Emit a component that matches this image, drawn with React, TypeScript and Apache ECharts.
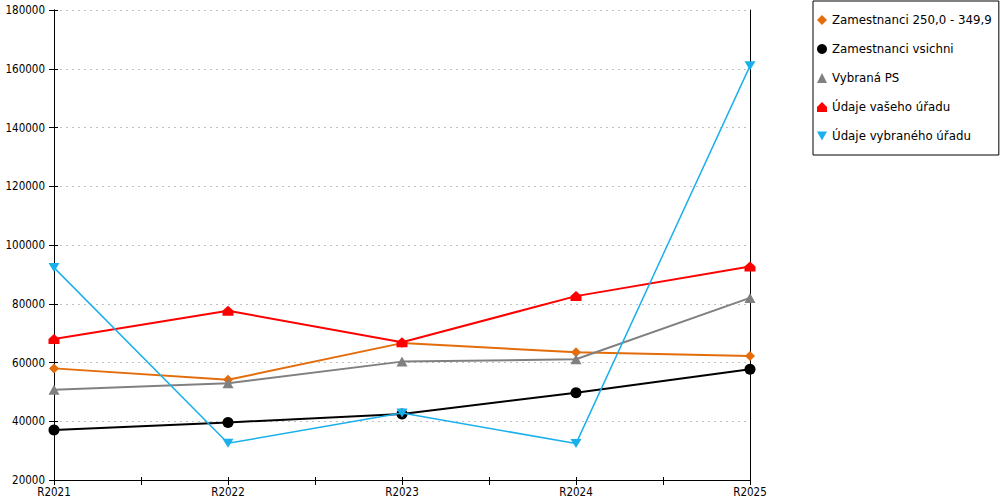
import React, { useEffect, useRef } from "react";
import * as echarts from "echarts";

const categories = ["R2021", "R2022", "R2023", "R2024", "R2025"];
const seriesNames = [
  "Zamestnanci 250,0 - 349,9",
  "Zamestnanci vsichni",
  "Vybraná PS",
  "Údaje vašeho úřadu",
  "Údaje vybraného úřadu",
];
const orangeValues = [58000, 54100, 66600, 63500, 62200];
const blackValues = [37000, 39600, 42500, 49700, 57700];
const grayValues = [50700, 52900, 60300, 61100, 82000];
const redValues = [68000, 77600, 66900, 82600, 92700];
const blueValues = [92300, 32500, 42800, 32400, 161000];
const yTicks = [20000, 40000, 60000, 80000, 100000, 120000, 140000, 160000, 180000];

const colors = ["#E46C0A", "#000000", "#808080", "#FF0000", "#1AB0EC"];
const HOUSE = "path://M0,5 L5,0 L10,5 L10,10 L0,10 Z";
const INV_TRI = "path://M0,0 L10,0 L5,9 Z";
const symbols = ["diamond", "circle", "triangle", HOUSE, INV_TRI];
const symbolSizes: any[] = [[10, 10], 11, [11, 10], [11, 10], [11, 9]];
const lineWidths = [2, 2, 2, 2, 1.5];
const allValues = [orangeValues, blackValues, grayValues, redValues, blueValues];

export default function App() {
  const ref = useRef<HTMLDivElement>(null);
  useEffect(() => {
    if (!ref.current) return;
    const chart = echarts.init(ref.current, undefined, { renderer: "svg" });
    const axisFont = { fontFamily: "DejaVu Sans Condensed", fontSize: 11.5, color: "#000" };
    const xMax = categories.length - 1;
    const xBase = {
      type: "value" as const,
      min: 0,
      max: xMax,
      interval: 0.5,
      position: "bottom" as const,
      splitLine: { show: false },
      axisLine: { show: true, lineStyle: { color: "#000", width: 1 } },
    };
    const yMin = yTicks[0];
    const yMax = yTicks[yTicks.length - 1];
    const yInterval = yTicks[1] - yTicks[0];
    chart.setOption({
      animation: false,
      color: colors,
      grid: { left: 54, right: 250, top: 10, bottom: 20, containLabel: false },
      legend: {
        orient: "vertical",
        left: 813,
        top: 1,
        padding: [13, 7, 13, 4],
        itemGap: 17,
        itemWidth: 10,
        itemHeight: 10,
        itemTextGap: 7,
        borderColor: "#000",
        borderWidth: 1,
        textStyle: { fontFamily: "DejaVu Sans", fontSize: 11.8, color: "#000" },
        data: seriesNames.map((n, i) => ({ name: n, icon: symbols[i] })),
      },
      xAxis: [
        {
          ...xBase,
          axisTick: { show: true, inside: false, length: 5, lineStyle: { color: "#000" } },
          axisLabel: {
            ...axisFont,
            margin: 6,
            formatter: (v: number) => (Number.isInteger(v) ? categories[v] : ""),
          },
        },
        {
          ...xBase,
          axisTick: { show: true, inside: true, length: 3, lineStyle: { color: "#000" } },
          axisLabel: { show: false },
        },
      ],
      yAxis: [
        {
          type: "value",
          min: yMin,
          max: yMax,
          interval: yInterval,
          position: "left",
          axisLine: { show: true, lineStyle: { color: "#000" } },
          axisTick: { show: true, inside: false, length: 5, lineStyle: { color: "#000" } },
          axisLabel: { ...axisFont, margin: 9, formatter: (v: number) => String(v) },
          splitLine: { show: true, lineStyle: { color: "#C0C0C0", type: [2, 4], width: 1 } },
        },
        {
          type: "value",
          min: yMin,
          max: yMax,
          interval: yInterval,
          position: "left",
          axisLine: { show: true, lineStyle: { color: "#000" } },
          axisTick: { show: true, inside: true, length: 4, lineStyle: { color: "#000" } },
          axisLabel: { show: false },
          splitLine: { show: false },
        },
        {
          type: "value",
          min: yMin,
          max: yMax,
          interval: yInterval,
          position: "right",
          axisLine: { show: true, lineStyle: { color: "#000" } },
          axisTick: { show: false },
          axisLabel: { show: false },
          splitLine: { show: false },
        },
      ],
      series: seriesNames.map((name, i) => ({
        name,
        type: "line",
        xAxisIndex: 0,
        yAxisIndex: 0,
        data: allValues[i].map((v, j) => [j, v]),
        symbol: symbols[i],
        symbolSize: symbolSizes[i],
        showAllSymbol: true,
        lineStyle: { width: lineWidths[i], color: colors[i] },
        itemStyle: { color: colors[i] },
        z: 2 + i,
      })),
    });
    return () => chart.dispose();
  }, []);
  return (
    <div
      ref={ref}
      style={{ position: "absolute", left: 0, top: 0, width: 1000, height: 500 }}
    />
  );
}
